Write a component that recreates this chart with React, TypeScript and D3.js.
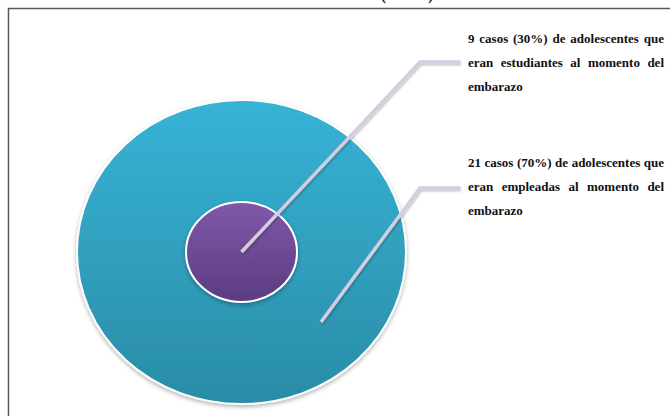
import * as d3 from 'd3';
import React, { useEffect, useRef } from 'react';

// categories and values (casos)
const categories = ['estudiantes', 'empleadas'];
const casos = [9, 21];
const porcentajes = [30, 70];

// label text, one array of lines per category
const labelLines = [
  ['9 casos (30%) de adolescentes que', 'eran estudiantes al momento del', 'embarazo'],
  ['21 casos (70%) de adolescentes que', 'eran empleadas al momento del', 'embarazo'],
];

const title = '(n = 30)';

const WIDTH = 670;
const HEIGHT = 416;
const FONT = '"Liberation Serif", "Times New Roman", "DejaVu Serif", serif';

export default function App() {
  const ref = useRef<SVGSVGElement>(null);

  useEffect(() => {
    const svg = d3.select(ref.current);
    svg.selectAll('*').remove();

    const defs = svg.append('defs');

    const grad = (id: string, top: string, bottom: string) => {
      const g = defs.append('linearGradient').attr('id', id).attr('x1', 0).attr('y1', 0).attr('x2', 0).attr('y2', 1);
      g.append('stop').attr('offset', '0%').attr('stop-color', top);
      g.append('stop').attr('offset', '100%').attr('stop-color', bottom);
    };
    grad('g-empleadas', '#37b3d6', '#2a8ca6');
    grad('g-estudiantes', '#8058aa', '#5b3c80');

    const shadow = defs.append('filter').attr('id', 'shadow').attr('x', '-20%').attr('y', '-20%').attr('width', '140%').attr('height', '140%');
    shadow
      .append('feDropShadow')
      .attr('dx', 0)
      .attr('dy', 2)
      .attr('stdDeviation', 2)
      .attr('flood-color', '#000')
      .attr('flood-opacity', 0.3);

    const lineShadow = defs.append('filter').attr('id', 'lshadow').attr('x', '-20%').attr('y', '-20%').attr('width', '140%').attr('height', '140%');
    lineShadow
      .append('feDropShadow')
      .attr('dx', 1)
      .attr('dy', 1.5)
      .attr('stdDeviation', 1)
      .attr('flood-color', '#000')
      .attr('flood-opacity', 0.25);

    // frame
    svg
      .append('path')
      .attr('d', `M8.5,${HEIGHT} V8.5 H${WIDTH}`)
      .attr('fill', 'none')
      .attr('stroke', '#5a5a5a')
      .attr('stroke-width', 1.5);

    // title, cut off at the top as in the source
    svg
      .append('text')
      .attr('x', 407)
      .attr('y', 0)
      .attr('text-anchor', 'middle')
      .style('font-family', FONT)
      .attr('font-weight', 'bold')
      .attr('font-size', 16)
      .attr('fill', '#222')
      .text(title);

    const cx = 241.5;
    const cy = 252;
    const ratio = 152 / 164.5;

    // outer circle = all cases, inner = estudiantes
    const rScale = d3.scaleLinear().domain([0, d3.sum(casos)]).range([0, 164.5]);
    const radii = [55.5, rScale(d3.sum(casos))];
    const order = [1, 0];

    svg
      .append('g')
      .selectAll('ellipse')
      .data(order)
      .join('ellipse')
      .attr('cx', cx)
      .attr('cy', cy)
      .attr('rx', (i) => radii[i])
      .attr('ry', (i) => (i === 1 ? radii[i] * ratio : 50))
      .attr('fill', (i) => `url(#g-${categories[i]})`)
      .attr('stroke', '#fff')
      .attr('stroke-width', 2)
      .attr('filter', 'url(#shadow)');

    // leader lines
    const starts: [number, number][] = [
      [cx, cy],
      [321, 322],
    ];
    const elbowY = [62, 188];
    const line = d3.line();
    svg
      .append('g')
      .selectAll('path')
      .data(categories)
      .join('path')
      .attr('d', (_, i) => line([starts[i], [420, elbowY[i]], [460, elbowY[i]]]))
      .attr('fill', 'none')
      .attr('stroke', '#d2cee0')
      .attr('stroke-width', 3.5)
      .attr('stroke-linejoin', 'miter')
      .attr('filter', 'url(#lshadow)');

    // justified labels
    const textLeft = 468;
    const textRight = 664;
    const firstBaseline = [43, 167];
    const lineGap = 24;

    labelLines.forEach((lines, k) => {
      const g = svg
        .append('g')
        .style('font-family', FONT)
        .attr('font-weight', 'bold')
        .attr('font-size', 13)
        .attr('fill', '#111')
        .attr('data-value', `${casos[k]} (${porcentajes[k]}%)`);
      lines.forEach((ln, j) => {
        const y = firstBaseline[k] + j * lineGap;
        const words = ln.split(' ');
        if (j === lines.length - 1) {
          g.append('text').attr('x', textLeft).attr('y', y).text(ln);
          return;
        }
        const nodes = words.map((w) => g.append('text').attr('y', y).text(w));
        const widths = nodes.map((n) => (n.node() as SVGTextElement).getComputedTextLength());
        const gap = (textRight - textLeft - d3.sum(widths)) / (words.length - 1);
        let x = textLeft;
        nodes.forEach((n, i) => {
          n.attr('x', x);
          x += widths[i] + gap;
        });
      });
    });
  }, []);

  return (
    <div style={{ position: 'absolute', left: 0, top: 0 }}>
      <svg ref={ref} width={WIDTH} height={HEIGHT} style={{ display: 'block', background: '#fff' }} />
    </div>
  );
}
